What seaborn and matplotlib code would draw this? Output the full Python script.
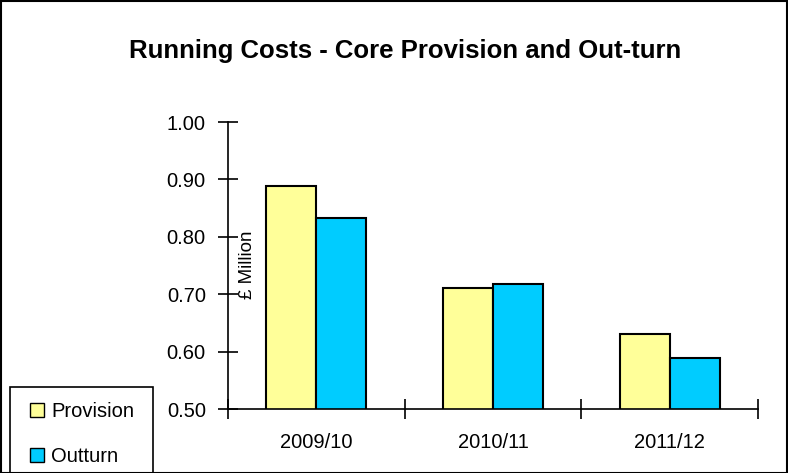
import matplotlib
matplotlib.use("Agg")
import matplotlib.pyplot as plt
import seaborn as sns
import pandas as pd
from matplotlib.patches import Rectangle
from matplotlib.lines import Line2D

categories = ["2009/10", "2010/11", "2011/12"]
provision = [0.889, 0.711, 0.631]
outturn = [0.833, 0.718, 0.588]
series = ["Provision", "Outturn"]
colors = ["#FFFF99", "#00CCFF"]
yticks = [0.50, 0.60, 0.70, 0.80, 0.90, 1.00]

df = pd.DataFrame({
    "Year": categories * 2,
    "Value": provision + outturn,
    "Series": [series[0]] * 3 + [series[1]] * 3,
})

sns.set_style("white")
plt.rcParams["font.family"] = ["Liberation Sans", "DejaVu Sans"]
plt.rcParams["text.color"] = "black"
plt.rcParams["xtick.color"] = "black"
plt.rcParams["ytick.color"] = "black"
plt.rcParams["axes.labelcolor"] = "black"

FS = 14.5
W, H = 788, 473
fig = plt.figure(figsize=(W / 100, H / 100), dpi=100)
ax = fig.add_axes([228 / W, 1 - 409 / H, (758 - 228) / W, (409 - 122) / H])

sns.barplot(data=df, x="Year", y="Value", hue="Series", palette=colors,
            saturation=1, width=100 / 177, gap=0, edgecolor="black", linewidth=1.5,
            ax=ax, legend=False, errorbar=None)

ax.set_ylim(0.5, 1.0)
ax.set_xlim(-0.5, 2.5)
ax.set_yticks(yticks)
ax.set_yticklabels([f"{v:.2f}" for v in yticks], fontsize=FS)
ax.set_xticks([-0.5, 0.5, 1.5, 2.5], minor=False)
ax.set_xticklabels([])
ax.set_xticks([0, 1, 2], minor=True)
ax.set_xticklabels(categories, minor=True, fontsize=FS)
ax.tick_params(axis="x", which="minor", bottom=False, length=0, pad=17)
ax.tick_params(axis="x", which="major", bottom=True, direction="inout", length=14, width=1.2)
ax.tick_params(axis="y", left=True, direction="inout", length=14, width=1.2, pad=9)
ax.set_xlabel("")
ax.set_ylabel("")
for s in ["top", "right"]:
    ax.spines[s].set_visible(False)
for s in ["left", "bottom"]:
    ax.spines[s].set_color("black")
    ax.spines[s].set_linewidth(1.2)

fig.text(247 / W, 1 - 265 / H, "£ Million", rotation=90, ha="center", va="center", fontsize=FS - 1)
fig.text(405 / W, 1 - 51 / H, "Running Costs - Core Provision and Out-turn",
         ha="center", va="center", fontsize=18.5, fontweight="bold")

# figure border
fig.patches.append(Rectangle((0.5 / W, 0.5 / H), 1 - 1.5 / W, 1 - 1.5 / H,
                             transform=fig.transFigure, fill=False,
                             edgecolor="black", linewidth=1.5))
# legend frame (extends past the bottom edge)
fig.patches.append(Rectangle((10 / W, -10 / H), (153 - 10) / W, (10 + 473 - 387) / H,
                             transform=fig.transFigure, fill=False,
                             edgecolor="black", linewidth=1.2))

handles = [Line2D([], [], marker="s", linestyle="", markersize=10,
                  markerfacecolor=c, markeredgecolor="black", markeredgewidth=1)
           for c in colors]
leg = fig.legend(handles, series, loc="upper left",
                 bbox_to_anchor=(29 / W, 1 - 402 / H), bbox_transform=fig.transFigure,
                 fontsize=FS, frameon=False,
                 labelspacing=1.3, handlelength=0.8, handletextpad=0.3,
                 borderpad=0, borderaxespad=0)

fig.savefig("out.png", dpi=100)
